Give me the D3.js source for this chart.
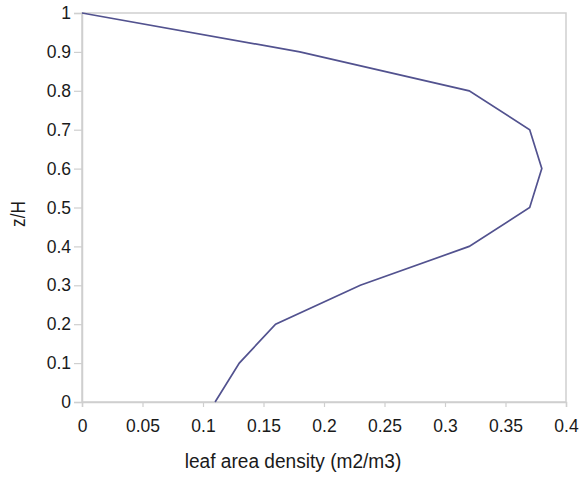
<!DOCTYPE html>
<html>
<head>
<meta charset="utf-8">
<script src="https://cdn.jsdelivr.net/npm/d3@7"></script>
<style>
  html, body { margin: 0; padding: 0; background: #fff; }
  svg { display: block; }
  text { font-family: "Liberation Sans", Arial, sans-serif; fill: #1a1a1a; }
</style>
</head>
<body>
<svg id="chart" width="582" height="477"></svg>
<script>
// Data: leaf area density profile
const zH = [1.0, 0.9, 0.8, 0.7, 0.6, 0.5, 0.4, 0.3, 0.2, 0.1, 0.0];
const lad = [0.0, 0.18, 0.32, 0.37, 0.38, 0.37, 0.32, 0.23, 0.16, 0.13, 0.11];
const xTicks = [0, 0.05, 0.1, 0.15, 0.2, 0.25, 0.3, 0.35, 0.4];
const yTicks = [0, 0.1, 0.2, 0.3, 0.4, 0.5, 0.6, 0.7, 0.8, 0.9, 1];
const xTitle = "leaf area density (m2/m3)";
const yTitle = "z/H";

const svg = d3.select("#chart");
const mLeft = 82, mRight = 566, mTop = 13, mBottom = 402;

const x = d3.scaleLinear().domain([0, 0.4]).range([mLeft, mRight]);
const y = d3.scaleLinear().domain([0, 1]).range([mBottom, mTop]);

const gridColor = "#cfcfcf";

// frame
svg.append("rect")
  .attr("x", mLeft).attr("y", mTop)
  .attr("width", mRight - mLeft).attr("height", mBottom - mTop)
  .attr("fill", "none").attr("stroke", gridColor).attr("stroke-width", 1.5);

// x axis
const xAxis = svg.append("g")
  .attr("transform", `translate(0,${mBottom})`)
  .call(d3.axisBottom(x).tickValues(xTicks).tickSize(5).tickPadding(13)
        .tickFormat(d => String(d)));
xAxis.select(".domain").attr("stroke", gridColor).attr("stroke-width", 1.5);
xAxis.selectAll(".tick line").attr("stroke", gridColor).attr("stroke-width", 1.2);
xAxis.selectAll(".tick text").attr("font-size", 17.5).attr("fill", "#1a1a1a")
  .attr("font-family", '"Liberation Sans", Arial, sans-serif');

// y axis
const yAxis = svg.append("g")
  .attr("transform", `translate(${mLeft},0)`)
  .call(d3.axisLeft(y).tickValues(yTicks).tickSize(8).tickPadding(3)
        .tickFormat(d => String(d)));
yAxis.select(".domain").attr("stroke", gridColor).attr("stroke-width", 1.5);
yAxis.selectAll(".tick line").attr("stroke", gridColor).attr("stroke-width", 1.2);
yAxis.selectAll(".tick text").attr("font-size", 17.5).attr("fill", "#1a1a1a")
  .attr("font-family", '"Liberation Sans", Arial, sans-serif');

// line
const pts = zH.map((z, i) => ({ z, v: lad[i] }));
const line = d3.line().x(d => x(d.v)).y(d => y(d.z));
svg.append("path")
  .datum(pts)
  .attr("d", line)
  .attr("fill", "none")
  .attr("stroke", "#52528f")
  .attr("stroke-width", 1.7)
  .attr("stroke-linejoin", "miter");

// axis titles
svg.append("text")
  .attr("transform", "translate(293,468) scale(0.91,1)")
  .attr("text-anchor", "middle")
  .attr("font-size", 21)
  .text(xTitle);

svg.append("text")
  .attr("transform", "translate(25,214) rotate(-90) scale(0.82,1)")
  .attr("text-anchor", "middle")
  .attr("font-size", 21)
  .text(yTitle);
</script>
</body>
</html>
